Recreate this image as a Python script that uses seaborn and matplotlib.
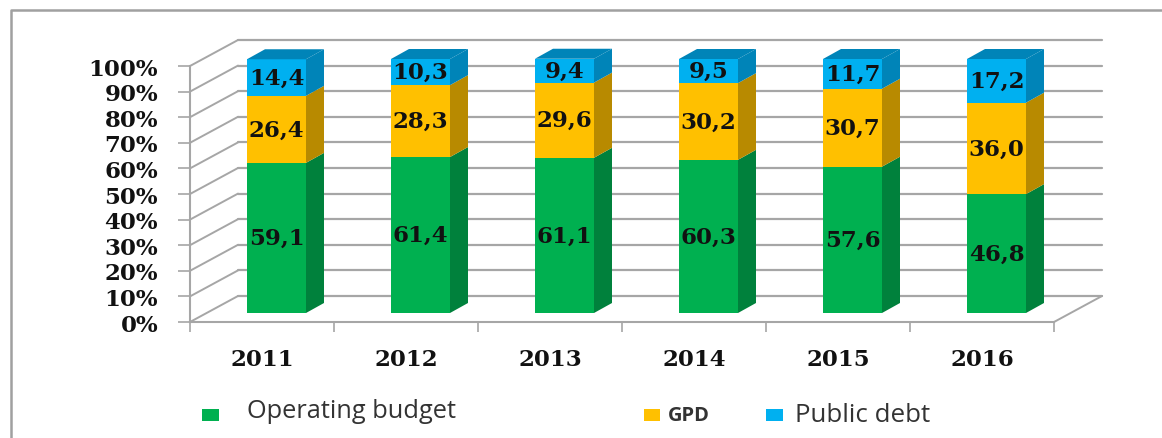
import matplotlib
matplotlib.use("Agg")
import matplotlib.pyplot as plt
from matplotlib.lines import Line2D
from matplotlib.patches import Polygon, Rectangle
import pandas as pd
import seaborn as sns

years = ["2011", "2012", "2013", "2014", "2015", "2016"]
operating_budget = [59.1, 61.4, 61.1, 60.3, 57.6, 46.8]
gpd = [26.4, 28.3, 29.6, 30.2, 30.7, 36.0]
public_debt = [14.4, 10.3, 9.4, 9.5, 11.7, 17.2]
y_ticks = [0, 10, 20, 30, 40, 50, 60, 70, 80, 90, 100]

front_colors = ["#00b050", "#ffc000", "#00b0f0"]
side_colors = ["#00813c", "#b88a00", "#0084b8"]
grid_color = "#a6a6a6"
label_font = "DejaVu Serif"

W, H = 1162, 439


# pixel box (top-left origin) to figure fractions
def box(left, right, top, bottom):
    return [left / W, 1 - bottom / H, (right - left) / W, (bottom - top) / H]


sns.set_theme(style="white")
fig = plt.figure(figsize=(W / 100, H / 100), dpi=100, facecolor="white")

# wall axes: front plane of the fake 3D box
ax = fig.add_axes(box(190, 1054, 67, 323))
ax.set_xlim(-0.5, 5.5)
ax.set_ylim(0, 100)
ax.patch.set_visible(False)
for side in ["top", "right"]:
    ax.spines[side].set_visible(False)
for side in ["left", "bottom"]:
    ax.spines[side].set_color(grid_color)
    ax.spines[side].set_linewidth(1.5)

# depth of the box, in data units of the wall axes
depth_x = 48 / 144
depth_y = 26 / 2.56

for t in y_ticks:
    ax.plot([-0.5, -0.5 + depth_x], [t, t + depth_y], color=grid_color, lw=1.4, clip_on=False)
    ax.plot([-0.5 + depth_x, 5.5 + depth_x], [t + depth_y, t + depth_y], color=grid_color, lw=1.6, clip_on=False)
ax.plot([5.5, 5.5 + depth_x], [0, depth_y], color=grid_color, lw=1.4, clip_on=False)

ax.set_yticks(y_ticks)
ax.set_yticklabels([f"{t}%" for t in y_ticks], family=label_font, fontweight="bold", fontsize=16.5, color="#111111")
ax.set_xticks([i - 0.5 for i in range(7)], minor=True)
ax.set_xticks(range(6))
ax.set_xticklabels(years, family=label_font, fontweight="bold", fontsize=16.5, color="#111111")
ax.tick_params(axis="y", which="major", length=9, width=1.2, color=grid_color, left=True, pad=14)
ax.tick_params(axis="x", which="major", length=0, pad=19)
ax.tick_params(axis="x", which="minor", length=7, width=1.2, color=grid_color, bottom=True)

# bar axes: sits 14.5 px in and 10 px up from the front plane
ax_bar = fig.add_axes(box(204.5, 1068.5, 60, 314))
ax_bar.patch.set_visible(False)

df = pd.DataFrame({"year": years, "budget": operating_budget, "gpd": gpd, "debt": public_debt})
bar_width = 59 / 144
side_x = 18 / 144
side_y = 10 / 2.54

bottoms = [0] * len(years)
for col, front, dark in zip(["budget", "gpd", "debt"], front_colors, side_colors):
    tops = [b + v for b, v in zip(bottoms, df[col])]
    sns.barplot(x=df["year"], y=df[col], bottom=bottoms, color=front, width=bar_width,
                saturation=1, ax=ax_bar, zorder=3, linewidth=0)
    for i in range(len(years)):
        x1 = i + bar_width / 2
        ax_bar.add_patch(Polygon([(x1, bottoms[i]), (x1 + side_x, bottoms[i] + side_y),
                                  (x1 + side_x, tops[i] + side_y), (x1, tops[i])],
                                 closed=True, fc=dark, ec="none", clip_on=False, zorder=3))
        ax_bar.text(i, bottoms[i] + df[col][i] / 2, f"{df[col][i]:.1f}".replace(".", ","),
                    ha="center", va="center", family=label_font, fontweight="bold",
                    fontsize=16.5, color="#111111", zorder=5)
    bottoms = tops

# bar tops
for i in range(len(years)):
    x0, x1 = i - bar_width / 2, i + bar_width / 2
    ax_bar.add_patch(Polygon([(x0, bottoms[i]), (x0 + side_x, bottoms[i] + side_y),
                              (x1 + side_x, bottoms[i] + side_y), (x1, bottoms[i])],
                             closed=True, fc=side_colors[2], ec="none", clip_on=False, zorder=3))

ax_bar.set_xlim(-0.5, 5.5)
ax_bar.set_ylim(0, 100)
ax_bar.axis("off")

# outer frame, only left and top edges show
fig.add_artist(Line2D([11 / W, 11 / W, 1], [0, 1 - 11 / H, 1 - 11 / H], color="#a0a0a0", lw=1.8))

# legend is spread out unevenly, placed by hand
legend_items = [
    ("Operating budget", front_colors[0], 202, 219, 410, 422, 247, 412, "normal", 18.3),
    ("GPD", front_colors[1], 644, 660, 410, 422, 668, 416, "bold", 14.5),
    ("Public debt", front_colors[2], 766, 783, 410, 422, 795, 415, "normal", 18.6),
]
for name, color, x0, x1, y0, y1, tx, ty, weight, size in legend_items:
    fig.add_artist(Rectangle((x0 / W, 1 - y1 / H), (x1 - x0) / W, (y1 - y0) / H,
                             transform=fig.transFigure, fc=color, ec="none"))
    fig.text(tx / W, 1 - ty / H, name, family="Open Sans", fontsize=size, fontweight=weight,
             ha="left", va="center", color="#333333")

fig.savefig("out.png", dpi=100)
